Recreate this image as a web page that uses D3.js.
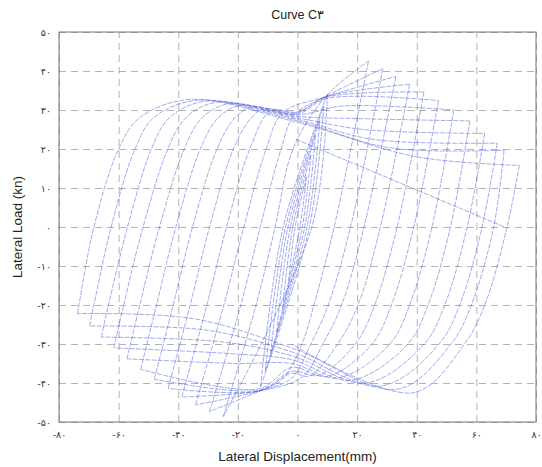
<!DOCTYPE html>
<html><head><meta charset="utf-8">
<script src="https://cdn.jsdelivr.net/npm/d3@7"></script>
<style>body{margin:0;background:#fff}</style></head>
<body>
<svg id="c" width="542" height="467"></svg>
<script>
// ---- tick labels ----
const xTicks = [-80,-60,-40,-20,0,20,40,60,80];
const xTickLabels = ["-۸۰","-۶۰","-۴۰","-۲۰","۰","۲۰","۴۰","۶۰","۸۰"];
const yTicks = [50,40,30,20,10,0,-10,-20,-30,-40,-50];
const yTickLabels = ["۵۰","۴۰","۳۰","۲۰","۱۰","۰","-۱۰","-۲۰","-۳۰","-۴۰","-۵۰"];

// ---- large cycles: peaks ----
const negPeakX = [-24.9,-29.5,-34.2,-38.8,-43.4,-48.0,-52.6,-57.2,-61.6,-65.8,-69.8,-73.8];
const negPeakY = [-48.6,-47.3,-45.6,-43.6,-41.4,-39.0,-36.5,-33.8,-31.0,-28.2,-25.4,-22.2];
const posPeakX = [23.8,28.6,33.0,37.6,42.4,47.3,52.4,57.8,62.8,67.0,69.3,74.4];
const posPeakY = [42.5,40.6,38.6,36.6,34.6,32.4,30.0,27.2,24.0,21.5,19.7,15.8];

// ---- loading branches (negative peak -> positive peak) ----
const loadM20X  = [-13.9,-19.0,-24.7,-30.4,-36.0,-41.7,-47.3,-52.9,-58.3,-63.4,-68.3,-73.3];
const loadZeroX = [-7.5,-12.5,-18.0,-23.8,-29.5,-35.2,-40.8,-46.3,-51.8,-57.0,-62.5,-68.3];
const load20X   = [-1.5,-5.5,-10.5,-16.0,-21.5,-27.0,-32.6,-38.0,-43.5,-49.0,-54.5,-60.0];
const load28X   = [null,null,null,null,-15.5,-21.0,-26.6,-32.0,-37.5,-43.0,-48.3,-53.0];
const loadTopX  = [null,-1.0,-5.0,-9.0,-11.0,-15.0,-19.0,-23.0,-27.0,-30.5,-33.5,-36.0];
const loadTopY  = [null,28.8,29.3,29.8,30.3,30.8,31.2,31.6,32.0,32.3,32.5,32.7];
const loadBandX = [null,null,null,0,0,0,0,0,0,0,0,0];
const loadBandY = [null,null,null,29.5,29.3,29.0,28.8,28.4,28.0,27.6,27.2,26.8];
const loadViaX  = [9.5,9.5,9.5,9.5,9.8,10.2,15.0,20.0,22.0,25.0,31.0,40.0];
const loadViaY  = [33.5,33.5,33.4,33.4,33.3,33.0,31.0,27.8,25.0,22.5,20.3,18.0];

// ---- unloading branches (positive peak k -> negative peak k+1) ----
const unloadZeroX = [12.3,17.8,22.3,27.8,33.4,39.0,45.1,51.3,56.9,61.9,65.8,70.3];
const unloadM20X  = [5.5,10.3,14.8,20.3,25.9,31.5,37.6,43.8,49.4,54.4,58.3,62.8];
const unloadM30X  = [1.5,4.5,8.5,13.5,19.4,25.0,31.0,37.0,42.5,47.5,51.5,56.0];
const unloadBotX  = [-5.0,-2.0,1.5,4.0,7.0,10.0,13.5,18.0,23.0,28.0,33.5,38.9];
const unloadBotY  = [-39.0,-38.8,-38.5,-38.2,-38.0,-38.3,-38.7,-39.3,-40.0,-40.8,-41.6,-42.5];
const unloadBandX = [null,null,null,-2,-2,-2,-2,-2,-2,-2,-2,-2];
const unloadBandY = [null,null,null,-37.5,-37.0,-36.0,-35.0,-34.0,-33.0,-32.0,-31.0,-30.0];
const unloadViaX  = [-12.6,-12.6,-12.6,-12.6,-12.6,-13.0,-20.0,-22.0,-25.0,-30.0,-35.0,null];
const unloadViaY  = [-42.0,-42.0,-42.0,-42.0,-41.8,-41.5,-35.0,-32.5,-29.5,-26.5,-23.5,null];

// ---- small initial cycles (central bundle) ----
const smallNegX = [-3.0,-5.0,-7.0,-9.0,-10.8,-12.4];
const smallNegY = [-14,-21,-27,-32.5,-37,-41];
const smallPosX = [3.0,4.5,6.0,7.5,8.8,10.0];
const smallPosY = [13,18.5,23.5,27.5,31,34];
const smallLoadZeroX   = [-0.8,-1.6,-2.4,-3.2,-4.0,-4.8];
const smallUnloadZeroX = [0.8,1.6,2.4,3.2,4.0,4.8];

// ---- final straight unloading line ----
const finalLineX = [-0.5,69.5];
const finalLineY = [22.5,0];

// ---------------------------------------------------
const svg = d3.select("#c");
const L=59, R=536, T=32, B=422;
const x = d3.scaleLinear().domain([-80,80]).range([L,R]);
const y = d3.scaleLinear().domain([-50,50]).range([B,T]);

// grid
const gx = svg.append("g").attr("transform",`translate(0,${B})`)
  .call(d3.axisBottom(x).tickValues(xTicks).tickSize(-(B-T)).tickFormat(""));
gx.select(".domain").remove();
gx.selectAll("line").attr("stroke","#a0a0a0").attr("stroke-dasharray","7,5").attr("stroke-width",0.8);
const gy = svg.append("g").attr("transform",`translate(${L},0)`)
  .call(d3.axisLeft(y).tickValues(yTicks).tickSize(-(R-L)).tickFormat(""));
gy.select(".domain").remove();
gy.selectAll("line").attr("stroke","#a0a0a0").attr("stroke-dasharray","7,5").attr("stroke-width",0.8);

// tick labels via axes
const ax = svg.append("g").attr("transform",`translate(0,${B})`)
  .call(d3.axisBottom(x).tickValues(xTicks).tickSize(0).tickPadding(9)
    .tickFormat((d,i)=>xTickLabels[i]));
ax.select(".domain").remove();
ax.selectAll("text").attr("font-family","DejaVu Sans, sans-serif").attr("font-size",9.5).attr("fill","#333");
const ay = svg.append("g").attr("transform",`translate(${L},0)`)
  .call(d3.axisLeft(y).tickValues(yTicks).tickSize(0).tickPadding(8)
    .tickFormat((d,i)=>yTickLabels[i]));
ay.select(".domain").remove();
ay.selectAll("text").attr("font-family","DejaVu Sans, sans-serif").attr("font-size",9.5).attr("fill","#333");

// data curves
const line = d3.line().x(d=>x(d[0])).y(d=>y(d[1])).curve(d3.curveCatmullRom.alpha(0.5));
const clean = a => a.filter(p => p[0]!=null && p[1]!=null);
const branches = [];
for (let s=0; s<smallNegX.length; s++) {
  branches.push([[smallNegX[s],smallNegY[s]],[smallLoadZeroX[s],0],[smallPosX[s],smallPosY[s]]]);
  const nx = s+1<smallNegX.length ? smallNegX[s+1] : negPeakX[0];
  const ny = s+1<smallNegY.length ? smallNegY[s+1] : negPeakY[0];
  branches.push([[smallPosX[s],smallPosY[s]],[smallUnloadZeroX[s],0],[nx,ny]]);
}
for (let k=0; k<negPeakX.length; k++) {
  branches.push(clean([
    [negPeakX[k],negPeakY[k]],[loadM20X[k],-20],[loadZeroX[k],0],[load20X[k],20],
    [load28X[k],28],[loadTopX[k],loadTopY[k]],[loadBandX[k],loadBandY[k]],
    [loadViaX[k],loadViaY[k]],[posPeakX[k],posPeakY[k]]]));
  const last = k+1>=negPeakX.length;
  branches.push(clean([
    [posPeakX[k],posPeakY[k]],[unloadZeroX[k],0],[unloadM20X[k],-20],[unloadM30X[k],-30],
    [unloadBotX[k],unloadBotY[k]],[unloadBandX[k],unloadBandY[k]],
    [unloadViaX[k],unloadViaY[k]],
    [last?null:negPeakX[k+1], last?null:negPeakY[k+1]]]));
}
branches.push(finalLineX.map((v,i)=>[v,finalLineY[i]]));

svg.append("g").selectAll("path").data(branches).join("path")
  .attr("d",line).attr("fill","none").attr("stroke","#3a4fd8")
  .attr("stroke-width",0.6).attr("stroke-opacity",0.8)
  .attr("stroke-dasharray","5,1.3");

// frame
svg.append("rect").attr("x",L).attr("y",T).attr("width",R-L).attr("height",B-T)
  .attr("fill","none").attr("stroke","#777").attr("stroke-width",1);

// titles
svg.append("text").attr("x",(L+R)/2).attr("y",19).attr("text-anchor","middle")
  .attr("font-family","Liberation Sans, DejaVu Sans, sans-serif").attr("font-size",12.5).attr("fill","#222")
  .text("Curve C۳");
svg.append("text").attr("x",(L+R)/2).attr("y",461).attr("text-anchor","middle")
  .attr("font-family","Liberation Sans, DejaVu Sans, sans-serif").attr("font-size",13.5).attr("fill","#222")
  .text("Lateral Displacement(mm)");
svg.append("text").attr("transform",`translate(22,${(T+B)/2}) rotate(-90)`).attr("text-anchor","middle")
  .attr("font-family","Liberation Sans, DejaVu Sans, sans-serif").attr("font-size",13.5).attr("fill","#222")
  .text("Lateral Load (kn)");
</script>
</body></html>
